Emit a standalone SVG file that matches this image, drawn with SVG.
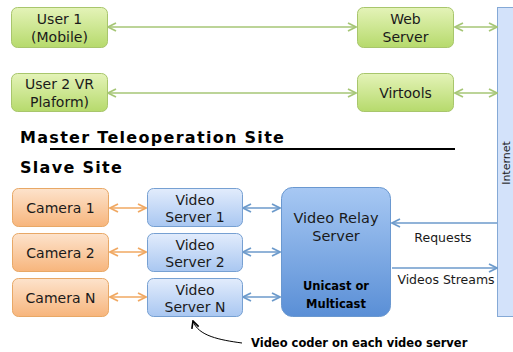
<svg xmlns="http://www.w3.org/2000/svg" width="513" height="352" viewBox="0 0 513 352">
<defs>
<linearGradient id="gG" x1="0" y1="0" x2="0" y2="1"><stop offset="0" stop-color="#e4f3b8"/><stop offset="1" stop-color="#b6da6c"/></linearGradient>
<linearGradient id="gO" x1="0" y1="0" x2="0" y2="1"><stop offset="0" stop-color="#fde3cc"/><stop offset="1" stop-color="#f7b57c"/></linearGradient>
<linearGradient id="gB" x1="0" y1="0" x2="0" y2="1"><stop offset="0" stop-color="#e2ecfc"/><stop offset="1" stop-color="#a9c7f1"/></linearGradient>
<linearGradient id="gR" x1="0" y1="0" x2="0" y2="1"><stop offset="0" stop-color="#a7c8f3"/><stop offset="1" stop-color="#5a8fd6"/></linearGradient>
<marker id="aG" viewBox="0 0 10 10" refX="9" refY="5" markerWidth="10" markerHeight="10" markerUnits="userSpaceOnUse" orient="auto-start-reverse"><path d="M1,1 L9,5 L1,9" fill="none" stroke="#a6c676" stroke-width="1.8"/></marker>
<marker id="aO" viewBox="0 0 10 10" refX="9" refY="5" markerWidth="10" markerHeight="10" markerUnits="userSpaceOnUse" orient="auto-start-reverse"><path d="M1,1 L9,5 L1,9" fill="none" stroke="#f0a862" stroke-width="1.8"/></marker>
<marker id="aB" viewBox="0 0 10 10" refX="9" refY="5" markerWidth="10" markerHeight="10" markerUnits="userSpaceOnUse" orient="auto-start-reverse"><path d="M1,1 L9,5 L1,9" fill="none" stroke="#6c9acb" stroke-width="1.8"/></marker>
<marker id="aK" viewBox="0 0 10 10" refX="9" refY="5" markerWidth="9" markerHeight="9" markerUnits="userSpaceOnUse" orient="auto"><path d="M1,1 L9,5 L1,9" fill="none" stroke="#000" stroke-width="1.8"/></marker>
</defs>
<style>
.t{font-family:"DejaVu Sans","Open Sans",sans-serif;font-size:14px;fill:#1a1a1a;text-anchor:middle}
.h{font-family:"DejaVu Sans",sans-serif;font-weight:bold;fill:#000;letter-spacing:1px}
.g{fill:url(#gG);stroke:#a8c66c;stroke-width:1}
.o{fill:url(#gO);stroke:#e8a866;stroke-width:1}
.b{fill:url(#gB);stroke:#76a0d2;stroke-width:1}
.lg{stroke:#a6c676;stroke-width:1.6;fill:none;marker-start:url(#aG);marker-end:url(#aG)}
.lo{stroke:#f0a862;stroke-width:1.6;fill:none;marker-start:url(#aO);marker-end:url(#aO)}
.lb{stroke:#6c9acb;stroke-width:1.6;fill:none;marker-start:url(#aB);marker-end:url(#aB)}
.lb1{stroke:#6c9acb;stroke-width:1.6;fill:none;marker-end:url(#aB)}
</style>
<rect width="513" height="352" fill="#fff"/>
<g id="internet"><rect x="497.5" y="7.5" width="20" height="309" fill="#d3e2fa" stroke="#85a9d6"/><text class="t" transform="translate(510,163) rotate(-90)" style="font-size:11px">Internet</text></g>
<g id="connectors">
<line class="lg" x1="108" y1="27" x2="356" y2="27"/>
<line class="lg" x1="108" y1="93" x2="356" y2="93"/>
<line class="lg" x1="455" y1="27" x2="497" y2="27"/>
<line class="lg" x1="455" y1="93" x2="497" y2="93"/>
<line class="lo" x1="110" y1="208" x2="146" y2="208"/>
<line class="lo" x1="110" y1="252" x2="146" y2="252"/>
<line class="lo" x1="110" y1="297" x2="146" y2="297"/>
<line class="lb" x1="243" y1="208" x2="280" y2="208"/>
<line class="lb" x1="243" y1="252" x2="280" y2="252"/>
<line class="lb" x1="243" y1="297" x2="280" y2="297"/>
<line class="lb1" x1="497" y1="223" x2="392" y2="223"/>
<line class="lb1" x1="392" y1="268" x2="497" y2="268"/>
<path d="M242,343 C220,340 198,336 193,321" fill="none" stroke="#000" stroke-width="1" marker-end="url(#aK)"/>
</g>
<g id="user1"><rect class="g" x="11.5" y="7.5" width="96" height="40" rx="6"/><text class="t" x="59.5" y="24">User 1</text><text class="t" x="59.5" y="42">(Mobile)</text></g>
<g id="user2"><rect class="g" x="11.5" y="73.5" width="96" height="38" rx="6"/><text class="t" x="59.5" y="89">User 2 VR</text><text class="t" x="59.5" y="107">Plaform)</text></g>
<g id="web"><rect class="g" x="357.5" y="7.5" width="96" height="40" rx="6"/><text class="t" x="405.5" y="24">Web</text><text class="t" x="405.5" y="42">Server</text></g>
<g id="virtools"><rect class="g" x="357.5" y="73.5" width="96" height="38" rx="6"/><text class="t" x="405.5" y="98">Virtools</text></g>
<g id="labels">
<text class="h" x="20" y="143" style="font-size:16px;letter-spacing:1.3px">Master Teleoperation Site</text>
<line x1="50" y1="149" x2="455" y2="149" stroke="#000" stroke-width="2"/>
<text class="h" x="20" y="173" style="font-size:16px;letter-spacing:1.3px">Slave Site</text>
<text class="h" x="251" y="347" style="font-size:11.5px;letter-spacing:0px">Video coder on each video server</text>
</g>
<g id="cam1"><rect class="o" x="12.5" y="188.5" width="96" height="38" rx="6"/><text class="t" x="60.5" y="213">Camera 1</text></g>
<g id="cam2"><rect class="o" x="12.5" y="233.5" width="96" height="38" rx="6"/><text class="t" x="60.5" y="258">Camera 2</text></g>
<g id="camN"><rect class="o" x="12.5" y="278.5" width="96" height="38" rx="6"/><text class="t" x="60.5" y="303">Camera N</text></g>
<g id="vs1"><rect class="b" x="147.5" y="188.5" width="95" height="38" rx="6"/><text class="t" x="195" y="205">Video</text><text class="t" x="195" y="222">Server 1</text></g>
<g id="vs2"><rect class="b" x="147.5" y="233.5" width="95" height="38" rx="6"/><text class="t" x="195" y="250">Video</text><text class="t" x="195" y="267">Server 2</text></g>
<g id="vsN"><rect class="b" x="147.5" y="278.5" width="95" height="38" rx="6"/><text class="t" x="195" y="295">Video</text><text class="t" x="195" y="312">Server N</text></g>
<g id="relay"><rect x="281.5" y="187.5" width="109" height="129" rx="11" fill="url(#gR)" stroke="#6a98d0"/><text class="t" x="336" y="223" style="font-size:14.5px">Video Relay</text><text class="t" x="336" y="241" style="font-size:14.5px">Server</text><text class="h" x="336" y="290" style="font-size:11.5px;text-anchor:middle;letter-spacing:0px">Unicast or</text><text class="h" x="336" y="308" style="font-size:11.5px;text-anchor:middle;letter-spacing:0px">Multicast</text></g>
<g id="edge-labels"><text class="t" x="443" y="242" style="font-size:12.5px">Requests</text><text class="t" x="446" y="284" style="font-size:12.5px">Videos Streams</text></g>
</svg>
